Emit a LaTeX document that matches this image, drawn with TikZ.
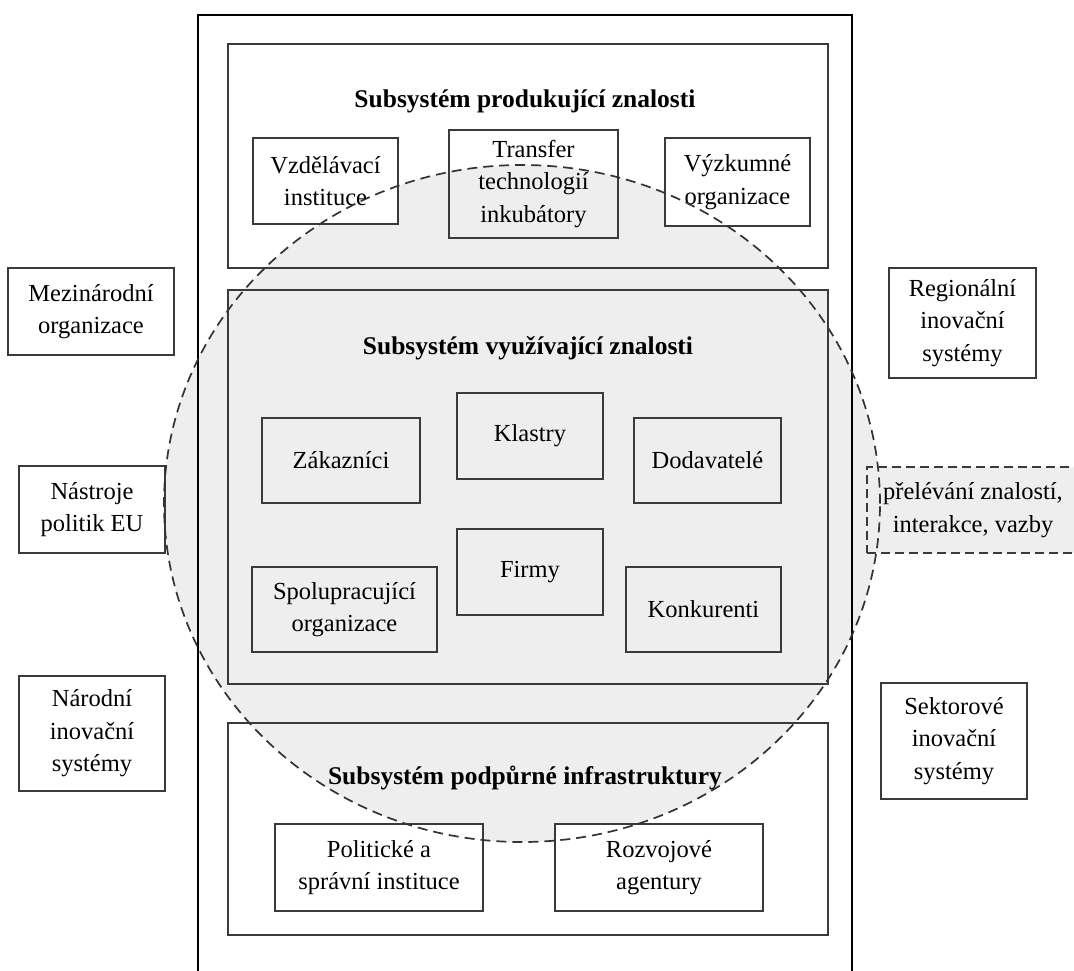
\documentclass[tikz,border=0pt]{standalone}
\usepackage{fontspec}
\setmainfont{Liberation Serif}
\definecolor{boxline}{HTML}{3A3A3A}
\definecolor{zonefill}{HTML}{EEEEEE}
\newcommand\bodytext{\fontsize{24.5}{32.5}\selectfont}
\newcommand\titletext{\fontsize{25.5}{28}\selectfont\bfseries}
\tikzset{
  box/.style={draw=boxline, line width=1.1pt, inner sep=0pt, align=center, font=\bodytext},
  whitebox/.style={box, fill=white},
  subsys/.style={draw=boxline, line width=1.1pt, inner sep=0pt},
  title/.style={font=\titletext, inner sep=0pt},
  zone/.style={draw=black!80, line width=1.7pt, dash pattern=on 10pt off 6pt},
}
\begin{document}
\begin{tikzpicture}[x=1pt,y=-1pt]
\useasboundingbox (0,0) rectangle (1074,970);
\clip (0,0) rectangle (1074,970);
\fill[white] (0,0) rectangle (1074,970);

% shaded zone of knowledge spillovers
\fill[zonefill] (522,503.5) ellipse [x radius=358pt, y radius=338.5pt];

% regional innovation system frame
\draw[line width=2.8pt] (198,1000) -- (198,15) -- (852,15) -- (852,1000);

% knowledge producing subsystem
\node[subsys, minimum width=600pt, minimum height=224pt] (topsub) at (528,156) {};
\node[title] (toptitle) at (525,101) {Subsystém produkující znalosti};
\node[whitebox, minimum width=145pt, minimum height=86pt] (edu) at (325.5,181) {Vzdělávací\\instituce};
\node[box, minimum width=169pt, minimum height=108pt] (transfer) at (533.5,184) {Transfer\\technologií\\inkubátory};
\node[whitebox, minimum width=145pt, minimum height=88pt] (research) at (737.5,182) {Výzkumné\\organizace};

% knowledge using subsystem
\node[subsys, fill=zonefill, minimum width=600pt, minimum height=394pt] (midsub) at (528,487) {};
\node[title] (midtitle) at (528,348) {Subsystém využívající znalosti};
\node[box, minimum width=158pt, minimum height=85pt] (customers) at (341,460.5) {Zákazníci};
\node[box, minimum width=146pt, minimum height=86pt] (clusters) at (530,436) {Klastry};
\node[box, minimum width=147pt, minimum height=85pt] (suppliers) at (707.5,460.5) {Dodavatelé};
\node[box, minimum width=185pt, minimum height=85pt] (partners) at (344.5,609.5) {Spolupracující\\organizace};
\node[box, minimum width=146pt, minimum height=86pt] (firms) at (530,572) {Firmy};
\node[box, minimum width=155pt, minimum height=85pt] (rivals) at (703.5,609.5) {Konkurenti};

% supporting infrastructure subsystem
\node[subsys, minimum width=600pt, minimum height=212pt] (botsub) at (528,829) {};
\node[title] (bottitle) at (525,778) {Subsystém podpůrné infrastruktury};
\node[whitebox, minimum width=208pt, minimum height=87pt] (politics) at (379,867.5) {Politické a\\správní instituce};
\node[whitebox, minimum width=208pt, minimum height=87pt] (agencies) at (659,867.5) {Rozvojové\\agentury};

% surrounding systems
\node[whitebox, minimum width=166pt, minimum height=87pt] (intl) at (91,311.5) {Mezinárodní\\organizace};
\node[whitebox, minimum width=146pt, minimum height=87pt] (eutools) at (92,509.5) {Nástroje\\politik EU};
\node[whitebox, minimum width=146pt, minimum height=115pt] (national) at (92,733.5) {Národní\\inovační\\systémy};
\node[whitebox, minimum width=147pt, minimum height=110pt] (regional) at (962.5,323) {Regionální\\inovační\\systémy};
\node[whitebox, minimum width=146pt, minimum height=116pt] (sectoral) at (954,741) {Sektorové\\inovační\\systémy};
\node[box, fill=zonefill, dash pattern=on 9pt off 5pt, minimum width=212pt, minimum height=86pt] (spill) at (973,510) {přelévání znalostí,\\interakce, vazby};

% outline of the spillover zone
\draw[zone] (522,503.5) ellipse [x radius=358pt, y radius=338.5pt];
\end{tikzpicture}
\end{document}
